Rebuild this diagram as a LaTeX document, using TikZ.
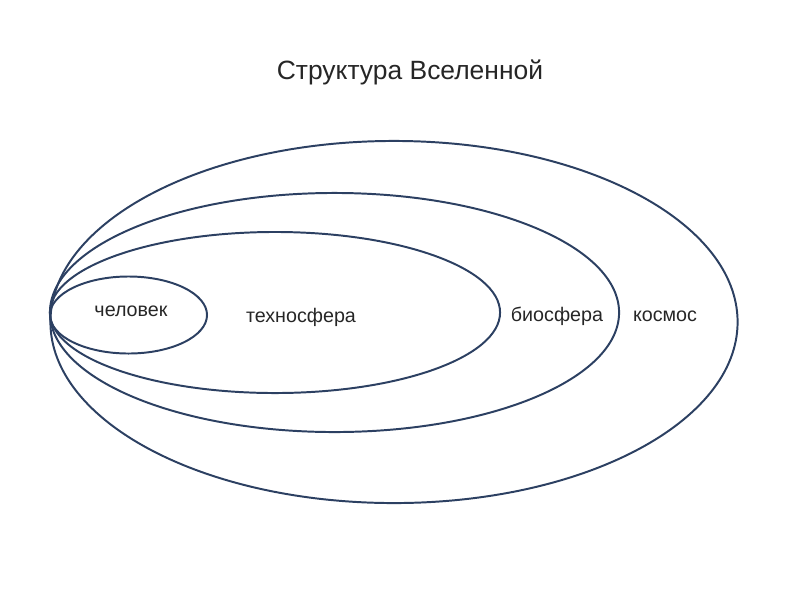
\documentclass[tikz,border=0pt]{standalone}
\usepackage{fontspec}
\setmainfont{Liberation Sans}
\usepackage{xcolor}
\usepackage{tikz}
\usetikzlibrary{shapes.geometric,positioning}
\definecolor{rim}{RGB}{44,64,98}

\begin{document}
\begin{tikzpicture}[
  x=0.025cm,y=-0.025cm,
  every node/.style={font=\fontsize{14}{17}\selectfont,text=black!85},
  sphere/.style={ellipse,draw=rim,line width=1.4pt,inner sep=0pt},
  lbl/.style={inner sep=1pt}
]
\useasboundingbox (0,0) rectangle (800,600);
\node[font=\fontsize{18.8}{22}\selectfont] (title) at (410,72) {Структура Вселенной};
\node[sphere,minimum width=17.175cm,minimum height=9.05cm] (kos) at (394,322) {};
\node[sphere,minimum width=14.225cm,minimum height=5.975cm] (bio) at (334.5,312.5) {};
\node[sphere,minimum width=11.25cm,minimum height=4.025cm] (tech) at (275,312.5) {};
\node[sphere,minimum width=3.925cm,minimum height=1.925cm] (chel) at (128.5,315) {};
\node[lbl] (lchel) at (131,311) {человек};
\node[lbl] (ltech) at (301,317) {техносфера};
\node[lbl] (lbio) at (557,316) {биосфера};
\node[lbl] (lkos) at (665,316) {космос};
\end{tikzpicture}
\end{document}
